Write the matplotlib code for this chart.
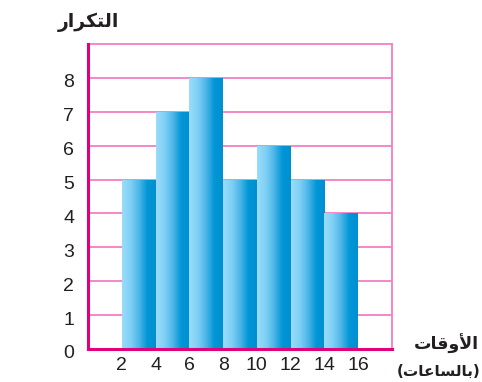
import numpy as np
import matplotlib
matplotlib.use("Agg")
import matplotlib.pyplot as plt
import matplotlib.transforms as mtransforms
from matplotlib.colors import LinearSegmentedColormap

# data
bin_edges = [2, 4, 6, 8, 10, 12, 14, 16]
counts = [5, 7, 8, 5, 6, 5, 4]
y_ticks = [0, 1, 2, 3, 4, 5, 6, 7, 8]

# Arabic labels, already shaped (presentation forms, visual order)
y_title = "\uFEAD\uFE8D\uFEAE\uFEDC\uFE98\uFEDF\uFE8D"            # التكرار
x_title = "\uFE95\uFE8E\uFED7\uFEED\uFEF7\uFE8D"                  # الأوقات
x_unit = "(\uFE95\uFE8E\uFECB\uFE8E\uFEB4\uFEDF\uFE8E\uFE91)"     # (بالساعات)

plt.rcParams['font.family'] = ['Liberation Sans', 'DejaVu Sans']

fig = plt.figure(figsize=(4.82, 3.82), dpi=100)
ax = fig.add_axes([0.1826, 0.0864, 0.6306, 0.7984])

pink = '#f27fc4'
magenta = '#e2007a'

for y in range(1, 9):
    ax.axhline(y, color=pink, lw=1.3, zorder=1)

cmap = LinearSegmentedColormap.from_list(
    'bar', ['#9adcf9', '#80d1f6', '#4fb6e8', '#0096d6', '#008fd0'])
grad = np.linspace(0, 1, 256).reshape(1, -1)

lefts = bin_edges[:-1]
widths = np.diff(bin_edges)
bars = ax.bar(lefts, counts, width=widths, align='edge',
              color='none', edgecolor='none', zorder=3)
for b, left, w, h in zip(bars, lefts, widths, counts):
    im = ax.imshow(grad, cmap=cmap, aspect='auto', interpolation='bilinear',
                   extent=(left, left + w, 0, h), zorder=2)
    im.set_clip_path(b)

ax.set_xlim(0, 18)
ax.set_ylim(0, 9)
ax.set_xticks(bin_edges)
ax.set_yticks(y_ticks)
ax.tick_params(length=0, labelsize=14, colors='#231f20')
ax.tick_params(axis='x', pad=6)
ax.tick_params(axis='y', pad=10)
shift = mtransforms.ScaledTranslation(0, -3 / 100, fig.dpi_scale_trans)
for lbl in ax.get_yticklabels():
    lbl.set_transform(lbl.get_transform() + shift)

for s in ['top', 'right']:
    ax.spines[s].set_color(pink)
    ax.spines[s].set_linewidth(1.3)
for s in ['left', 'bottom']:
    ax.spines[s].set_color(magenta)
    ax.spines[s].set_linewidth(2.2)
    ax.spines[s].set_zorder(5)

fig.text(0.183, 0.942, y_title, family='DejaVu Sans', weight='bold',
         fontsize=13.5, ha='center', va='center', color='#231f20')
fig.text(0.927, 0.0995, x_title, family='DejaVu Sans', weight='bold',
         fontsize=12.5, ha='center', va='center', color='#231f20')
fig.text(0.909, 0.028, x_unit, family='DejaVu Sans', weight='bold',
         fontsize=11, ha='center', va='center', color='#231f20')

fig.savefig('out.png', dpi=100)
